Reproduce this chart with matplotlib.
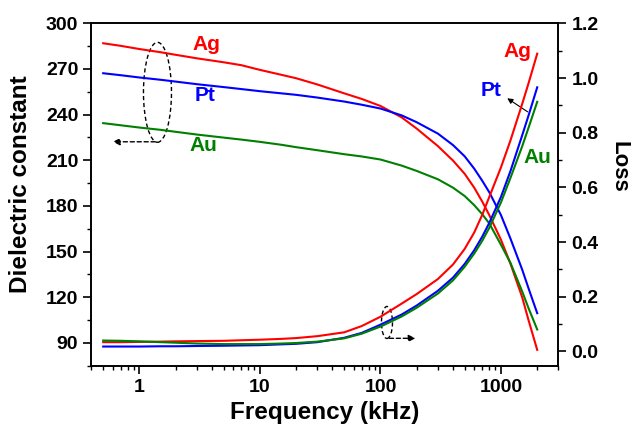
import numpy as np
import matplotlib.pyplot as plt
from matplotlib.patches import Ellipse
from matplotlib.ticker import MultipleLocator, LogLocator, FixedLocator

plt.rcParams['font.family'] = ['Liberation Sans', 'DejaVu Sans']
plt.rcParams['font.weight'] = 'bold'

freq = [0.5, 0.7, 1, 1.5, 2, 3, 5, 7, 10, 15, 20, 30, 50, 70, 100, 150, 200,
        300, 400, 500, 600, 700, 800, 1000, 1200, 1500, 1700, 2000]

# dielectric constant (left axis)
eps_ag = [286.9, 285.2, 283.1, 281.0, 279.3, 277.0, 274.4, 272.5, 269.4, 266.2,
          263.9, 259.8, 254.0, 250.3, 245.7, 238.2, 230.8, 219.3, 209.8, 201.1,
          192.0, 182.8, 174.0, 157.8, 142.0, 120.0, 104.5, 85.4]
eps_pt = [267.2, 265.9, 264.4, 262.9, 261.7, 260.0, 258.1, 256.8, 255.4, 254.0,
          253.0, 251.2, 248.6, 246.5, 244.0, 239.5, 235.0, 227.5, 220.0, 212.6,
          204.5, 196.5, 189.0, 174.0, 158.5, 138.2, 125.5, 109.5]
eps_au = [234.4, 233.0, 231.5, 230.0, 228.7, 226.9, 224.9, 223.6, 222.1, 220.2,
          218.6, 216.6, 214.0, 212.5, 210.5, 206.5, 203.0, 197.5, 192.0, 186.5,
          180.5, 174.5, 168.5, 154.5, 142.5, 123.8, 112.5, 98.8]

# loss (right axis)
loss_ag = [0.034, 0.034, 0.035, 0.036, 0.037, 0.038, 0.039, 0.041, 0.043, 0.046,
           0.049, 0.056, 0.070, 0.093, 0.127, 0.175, 0.210, 0.265, 0.318, 0.375,
           0.435, 0.500, 0.565, 0.673, 0.772, 0.905, 0.983, 1.089]
loss_pt = [0.018, 0.018, 0.018, 0.019, 0.019, 0.020, 0.021, 0.022, 0.023, 0.026,
           0.028, 0.034, 0.050, 0.068, 0.098, 0.135, 0.168, 0.222, 0.270, 0.320,
           0.370, 0.420, 0.470, 0.565, 0.660, 0.790, 0.865, 0.966]
loss_au = [0.040, 0.039, 0.037, 0.034, 0.032, 0.029, 0.027, 0.027, 0.027, 0.029,
           0.031, 0.036, 0.048, 0.065, 0.091, 0.128, 0.160, 0.212, 0.260, 0.310,
           0.358, 0.405, 0.452, 0.545, 0.635, 0.750, 0.820, 0.913]

red = (1, 0, 0)
blue = (0, 0, 1)
green = (0, 0.5, 0)

fig = plt.figure(figsize=(6.31, 4.32), dpi=100)
fig.subplots_adjust(left=0.145, right=0.885, top=0.946, bottom=0.1535)
ax = fig.add_subplot(111)
ax2 = ax.twinx()

ax.plot(freq, eps_ag, color=red, lw=1.5)
ax.plot(freq, eps_pt, color=blue, lw=1.5)
ax.plot(freq, eps_au, color=green, lw=1.5)
ax2.plot(freq, loss_ag, color=red, lw=1.5)
ax2.plot(freq, loss_pt, color=blue, lw=1.5)
ax2.plot(freq, loss_au, color=green, lw=1.5)

ax.set_xscale('log')
ax.set_xlim(0.4, 3000)
ax.set_ylim(75, 300)
ax2.set_ylim(-0.052, 1.2)

ax.xaxis.set_major_locator(FixedLocator([1, 10, 100, 1000]))
ax.xaxis.set_minor_locator(LogLocator(base=10, subs=np.arange(2, 10), numticks=20))
ax.set_xticklabels(['1', '10', '100', '1000'])
ax.yaxis.set_major_locator(FixedLocator([90, 120, 150, 180, 210, 240, 270, 300]))
ax.yaxis.set_minor_locator(MultipleLocator(15))
ax2.yaxis.set_major_locator(MultipleLocator(0.2))
ax2.yaxis.set_minor_locator(MultipleLocator(0.1))
ax2.yaxis.set_major_formatter(plt.FuncFormatter(lambda v, p: "%.1f" % v))

for a in (ax, ax2):
    for s in a.spines.values():
        s.set_linewidth(1.2)
    a.tick_params(which='major', direction='out', length=6, width=1.2, labelsize=14)
    a.tick_params(which='minor', direction='out', length=3, width=1.0)
ax.tick_params(axis='x', which='both', top=False)

ax.set_xlabel("Frequency (kHz)", fontsize=17.5, fontweight='bold', labelpad=4)
ax.text(-0.153, 0.531, "Dielectric constant", transform=ax.transAxes, fontsize=17.5,
        fontweight='bold', rotation=90, ha='center', va='center')
ax.text(1.13, 0.58, "Loss", transform=ax.transAxes, fontsize=16,
        fontweight='bold', rotation=270, ha='center', va='center')

# series labels
kw = dict(transform=ax.transAxes, fontsize=15, fontweight='bold', ha='center', va='center')
ax.text(0.2452, 0.9395, "Ag", color=red, **kw)
ax.text(0.243, 0.7905, "Pt", color=blue, **kw)
ax.text(0.2388, 0.6446, "Au", color=green, **kw)
ax.text(0.9111, 0.919, "Ag", color=red, **kw)
ax.text(0.8555, 0.8052, "Pt", color=blue, **kw)
ax.text(0.954, 0.6095, "Au", color=green, **kw)

ax.annotate("", xy=(0.8854, 0.7856), xytext=(0.939, 0.737), xycoords='axes fraction',
            arrowprops=dict(arrowstyle='-|>', color='black', lw=0.8, mutation_scale=8))

# dashed ellipses with arrows pointing to the axis
ax.add_patch(Ellipse((0.1413, 0.7985), 0.06, 0.292, transform=ax.transAxes,
                     fill=False, ls=(0, (3, 2)), lw=1.0, color='black'))
ax.annotate("", xy=(0.0396, 0.654), xytext=(0.1424, 0.654), xycoords='axes fraction',
            arrowprops=dict(arrowstyle='-|>', color='black', lw=1.0, ls=(0, (3, 2)),
                            mutation_scale=10))
ax.add_patch(Ellipse((0.6328, 0.1262), 0.0236, 0.0935, transform=ax.transAxes,
                     fill=False, ls=(0, (3, 2)), lw=1.0, color='black'))
ax.annotate("", xy=(0.6998, 0.080), xytext=(0.632, 0.080), xycoords='axes fraction',
            arrowprops=dict(arrowstyle='-|>', color='black', lw=1.0, ls=(0, (3, 2)),
                            mutation_scale=10))

fig.savefig("out.png", dpi=100)
